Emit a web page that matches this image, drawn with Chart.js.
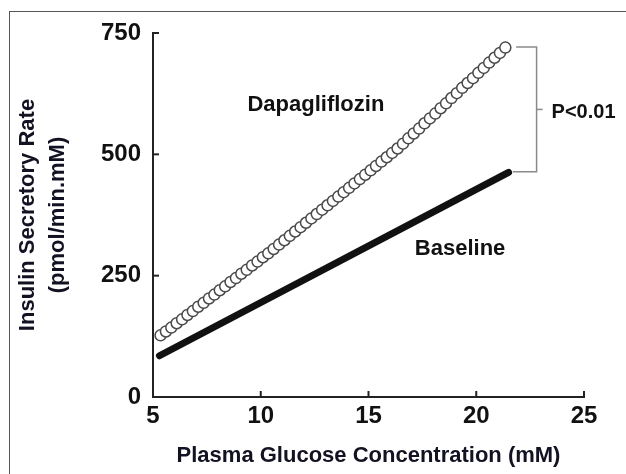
<!DOCTYPE html>
<html>
<head>
<meta charset="utf-8">
<script src="https://cdn.jsdelivr.net/npm/chart.js@4.4.0/dist/chart.umd.min.js"></script>
<style>
  html, body { margin: 0; padding: 0; background: #fff; }
  #wrap { position: relative; width: 626px; height: 474px; overflow: hidden; }
  #frame { position: absolute; left: 9px; top: 11px; width: 700px; height: 600px; border: 1.5px solid #555; }
  canvas { position: absolute; left: 0; top: 0; }
</style>
</head>
<body>
<div id="wrap">
  <div id="frame"></div>
  <canvas id="chart" width="626" height="474"></canvas>
</div>
<script>
// tick labels
const xTicks = [5, 10, 15, 20, 25];
const yTicks = [0, 250, 500, 750];

// Dapagliflozin (open circles)
const dapaX = [5.35, 5.6, 5.85, 6.1, 6.35, 6.6, 6.85, 7.1, 7.35, 7.6, 7.85, 8.1, 8.35, 8.6, 8.85,
  9.1, 9.35, 9.6, 9.85, 10.1, 10.35, 10.6, 10.85, 11.1, 11.35, 11.6, 11.85, 12.1, 12.35, 12.6,
  12.85, 13.1, 13.35, 13.6, 13.85, 14.1, 14.35, 14.6, 14.85, 15.1, 15.35, 15.6, 15.85, 16.1,
  16.35, 16.6, 16.85, 17.1, 17.35, 17.6, 17.85, 18.1, 18.35, 18.6, 18.85, 19.1, 19.35, 19.6,
  19.85, 20.1, 20.35, 20.6, 20.85, 21.1, 21.35];
const dapaY = [127, 135, 143, 152, 160, 169, 177, 186, 194, 203, 211, 220, 228, 237, 245,
  254, 262, 271, 279, 288, 296, 305, 314, 323, 332, 341, 350, 359, 368, 377,
  386, 395, 404, 413, 422, 431, 440, 449, 458, 467, 476, 485, 494, 503,
  512, 522, 533, 543, 553, 564, 574, 584, 595, 605, 616, 626, 637, 647,
  657, 668, 678, 689, 699, 709, 720];

// Baseline (thick line)
const baseX = [5.3, 21.5];
const baseY = [85, 463];

// annotations (data coordinates)
const dapaLabel = { text: 'Dapagliflozin', x: 12.56, y: 602 };
const baseLabel = { text: 'Baseline', x: 19.25, y: 305 };
const bracket = { x: 22.8, topFrom: 21.85, top: 721, bottomFrom: 21.7, bottom: 464, text: 'P<0.01' };

const titleColor = '#121222';
Chart.defaults.font.family = '"Liberation Sans", Arial, sans-serif';

const overlay = {
  id: 'overlay',
  afterDraw(chart) {
    const { ctx, scales: { x, y } } = chart;
    const line = (x1, y1, x2, y2) => {
      ctx.beginPath(); ctx.moveTo(x1, y1); ctx.lineTo(x2, y2); ctx.stroke();
    };
    ctx.save();
    // inward tick marks
    ctx.strokeStyle = '#222';
    ctx.lineWidth = 2;
    yTicks.forEach(v => {
      const py = y.getPixelForValue(v);
      line(x.left, py, x.left + 6, py);
    });
    xTicks.forEach(v => {
      const px = x.getPixelForValue(v);
      line(px, y.bottom, px, y.bottom - 6);
    });

    // significance bracket
    const bx = x.getPixelForValue(bracket.x);
    const bt = y.getPixelForValue(bracket.top);
    const bb = y.getPixelForValue(bracket.bottom);
    ctx.strokeStyle = '#8a8a8a';
    ctx.lineWidth = 1.5;
    ctx.beginPath();
    ctx.moveTo(x.getPixelForValue(bracket.topFrom), bt);
    ctx.lineTo(bx, bt);
    ctx.lineTo(bx, bb);
    ctx.lineTo(x.getPixelForValue(bracket.bottomFrom), bb);
    ctx.stroke();
    const mid = (bt + bb) / 2;
    line(bx, mid, bx + 6, mid);

    ctx.fillStyle = '#111';
    ctx.textBaseline = 'middle';
    ctx.textAlign = 'left';
    ctx.font = 'bold 20px "Liberation Sans", Arial, sans-serif';
    ctx.fillText(bracket.text, bx + 15, mid + 3);

    // series labels
    ctx.textAlign = 'center';
    ctx.font = 'bold 22px "Liberation Sans", Arial, sans-serif';
    [dapaLabel, baseLabel].forEach(l => {
      ctx.fillText(l.text, x.getPixelForValue(l.x), y.getPixelForValue(l.y));
    });
    ctx.restore();
  }
};

new Chart(document.getElementById('chart'), {
  type: 'scatter',
  data: {
    datasets: [
      {
        label: 'Baseline',
        data: baseX.map((v, i) => ({ x: v, y: baseY[i] })),
        showLine: true,
        borderColor: '#111',
        borderWidth: 7,
        borderCapStyle: 'round',
        pointRadius: 0,
        order: 2
      },
      {
        label: 'Dapagliflozin',
        data: dapaX.map((v, i) => ({ x: v, y: dapaY[i] })),
        showLine: false,
        pointRadius: 5.5,
        pointBorderWidth: 1.5,
        pointBorderColor: '#4a4a4a',
        pointBackgroundColor: '#fff',
        order: 1
      }
    ]
  },
  options: {
    responsive: false,
    animation: false,
    layout: { padding: { top: 33, right: 42, left: 0, bottom: 0 } },
    plugins: { legend: { display: false }, tooltip: { enabled: false } },
    scales: {
      x: {
        type: 'linear',
        min: 5,
        max: 25,
        afterBuildTicks: s => { s.ticks = xTicks.map(v => ({ value: v })); },
        ticks: { color: '#111', padding: 5, maxRotation: 0, font: { size: 24, weight: 'bold' } },
        grid: { display: false, drawTicks: false },
        border: { display: true, color: '#222', width: 2 },
        title: {
          display: true,
          text: 'Plasma Glucose Concentration (mM)',
          color: titleColor,
          font: { size: 22, weight: 'bold' },
          padding: { top: 0, bottom: 5 }
        },
        afterFit(scale) { scale.height = 77; scale.paddingLeft = 0; scale.paddingRight = 0; }
      },
      y: {
        type: 'linear',
        min: 0,
        max: 750,
        afterBuildTicks: s => { s.ticks = yTicks.map(v => ({ value: v })); },
        ticks: { color: '#111', padding: 12, font: { size: 24, weight: 'bold' } },
        grid: { display: false, drawTicks: false },
        border: { display: true, color: '#222', width: 2 },
        title: {
          display: true,
          text: ['Insulin Secretory Rate', '(pmol/min.mM)'],
          color: titleColor,
          font: { size: 22, weight: 'bold', lineHeight: 30 / 22 },
          padding: { top: 13, bottom: 0 }
        },
        afterFit(scale) { scale.width = 153; scale.paddingTop = 0; scale.paddingBottom = 0; }
      }
    }
  },
  plugins: [overlay]
});
</script>
</body>
</html>
